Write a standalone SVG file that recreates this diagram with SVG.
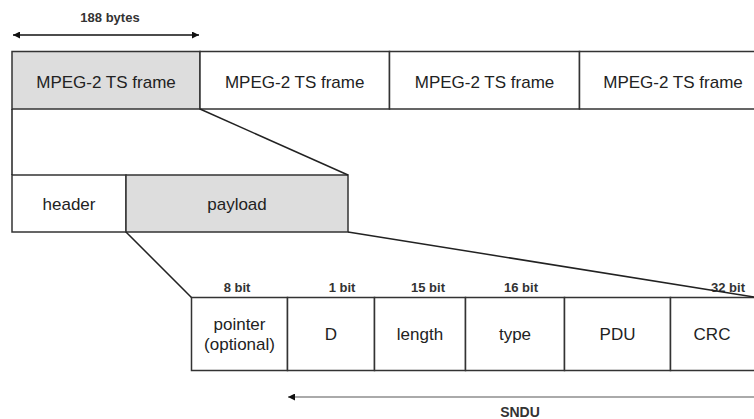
<svg xmlns="http://www.w3.org/2000/svg" width="754" height="419" viewBox="0 0 754 419">
<style>
.box{stroke:#333;stroke-width:1.5;fill:#fff}
.gray{fill:#dddddd}
.t{font-family:"Liberation Sans",Arial,sans-serif;font-size:17px;fill:#222;text-anchor:middle}
.s{font-family:"Liberation Sans",Arial,sans-serif;font-size:13px;font-weight:bold;fill:#333;text-anchor:middle}
.ln{stroke:#222;stroke-width:1.5;fill:none}
</style>
<defs>
<marker id="ah" viewBox="0 0 10 10" refX="10" refY="5" markerWidth="9" markerHeight="7" markerUnits="userSpaceOnUse" orient="auto-start-reverse">
<path d="M0,0 L10,5 L0,10 z" fill="#111"/>
</marker>
</defs>
<rect width="754" height="419" fill="#fff"/>
<g id="frame1"><rect class="box gray" x="12" y="51.5" width="188" height="57.5"/><text class="t" x="106" y="88">MPEG-2 TS frame</text></g>
<g id="frame2"><rect class="box" x="200" y="51.5" width="189.5" height="57.5"/><text class="t" x="294.7" y="88">MPEG-2 TS frame</text></g>
<g id="frame3"><rect class="box" x="389.5" y="51.5" width="190" height="57.5"/><text class="t" x="484.5" y="88">MPEG-2 TS frame</text></g>
<g id="frame4"><rect class="box" x="579.5" y="51.5" width="190" height="57.5"/><text class="t" x="673" y="88">MPEG-2 TS frame</text></g>
<g id="header"><rect class="box" x="12" y="175" width="114" height="57"/><text class="t" x="69" y="210">header</text></g>
<g id="payload"><rect class="box gray" x="126" y="175" width="222" height="57"/><text class="t" x="237" y="210">payload</text></g>
<g id="pointer"><rect class="box" x="191.5" y="297.5" width="96" height="73"/><text class="t" x="239.5" y="330">pointer</text><text class="t" x="239.5" y="350">(optional)</text><text class="s" x="237" y="292">8 bit</text></g>
<g id="D"><rect class="box" x="287.5" y="297.5" width="87" height="73"/><text class="t" x="331" y="340">D</text><text class="s" x="342" y="292">1 bit</text></g>
<g id="length"><rect class="box" x="374.5" y="297.5" width="91" height="73"/><text class="t" x="420" y="340">length</text><text class="s" x="428" y="292">15 bit</text></g>
<g id="type"><rect class="box" x="465.5" y="297.5" width="99" height="73"/><text class="t" x="515" y="340">type</text><text class="s" x="521" y="292">16 bit</text></g>
<g id="PDU"><rect class="box" x="564.5" y="297.5" width="106" height="73"/><text class="t" x="617.5" y="340">PDU</text></g>
<g id="CRC"><rect class="box" x="670.5" y="297.5" width="100" height="73"/><text class="t" x="712" y="340">CRC</text><text class="s" x="728" y="292">32 bit</text></g>
<g id="connectors">
<line class="ln" x1="12" y1="109" x2="12" y2="175"/>
<line class="ln" x1="200" y1="109" x2="348" y2="175"/>
<line class="ln" x1="126" y1="232" x2="191.5" y2="297.5"/>
<line class="ln" x1="348" y1="232" x2="754" y2="297"/>
<line x1="13" y1="35" x2="199" y2="35" stroke="#111" stroke-width="1.5" marker-start="url(#ah)" marker-end="url(#ah)"/>
<line x1="288" y1="397" x2="754" y2="397" stroke="#aaa" stroke-width="2" marker-start="url(#ah)"/>
</g>
<text class="s" x="110" y="22">188 bytes</text>
<text class="s" x="520" y="417" style="font-size:14px">SNDU</text>
</svg>
